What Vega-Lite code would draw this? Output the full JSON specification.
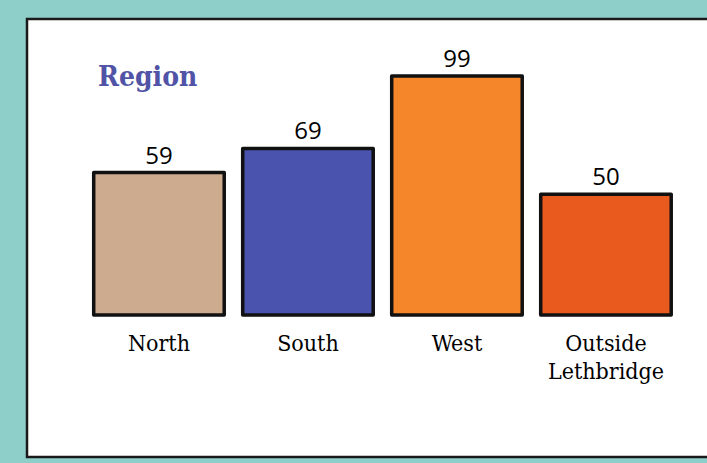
{
  "$schema": "https://vega.github.io/schema/vega-lite/v6.json",
  "width": 690,
  "height": 438,
  "autosize": {"type": "none"},
  "padding": {"left": 27, "top": 19, "right": 0, "bottom": 6},
  "background": "#8fcfca",
  "config": {
    "view": {"fill": "#ffffff", "stroke": "#1a1a1a", "strokeWidth": 2.5}
  },
  "title": {
    "text": "Region",
    "anchor": "start",
    "frame": "group",
    "orient": "top",
    "offset": -95,
    "baseline": "alphabetic",
    "dx": 71,
    "font": "DejaVu Serif Condensed",
    "fontSize": 28,
    "fontWeight": "bold",
    "color": "#5053a6"
  },
  "data": {
    "values": [
      {"region": "North", "count": 59, "color": "#cdab8f"},
      {"region": "South", "count": 69, "color": "#4a53ad"},
      {"region": "West", "count": 99, "color": "#f5862a"},
      {"region": "Outside Lethbridge", "count": 50, "color": "#e95a1e"}
    ]
  },
  "encoding": {
    "x": {
      "field": "region",
      "type": "nominal",
      "sort": null,
      "scale": {"paddingInner": 0.124, "paddingOuter": 0.3775, "align": 0.593, "round": false},
      "axis": {
        "title": null,
        "orient": "bottom",
        "offset": -142,
        "domain": false,
        "ticks": false,
        "labelAngle": 0,
        "labelExpr": "split(datum.label, ' ')",
        "labelFont": "DejaVu Serif Condensed",
        "labelFontSize": 23,
        "labelColor": "#000000",
        "labelBaseline": "alphabetic",
        "labelPadding": 35,
        "labelLineHeight": 28
      }
    },
    "y": {
      "field": "count",
      "type": "quantitative",
      "scale": {"domain": [-58.8, 122.6], "nice": false, "zero": false},
      "axis": null
    }
  },
  "layer": [
    {
      "mark": {"type": "bar", "stroke": "#111111", "strokeWidth": 3.5, "strokeJoin": "round"},
      "encoding": {
        "y2": {"datum": 0},
        "color": {"field": "color", "type": "nominal", "scale": null, "legend": null}
      }
    },
    {
      "mark": {"type": "text", "baseline": "alphabetic", "dy": -9, "font": "Open Sans", "fontSize": 24, "color": "#000000"},
      "encoding": {"text": {"field": "count", "type": "quantitative"}}
    }
  ]
}
